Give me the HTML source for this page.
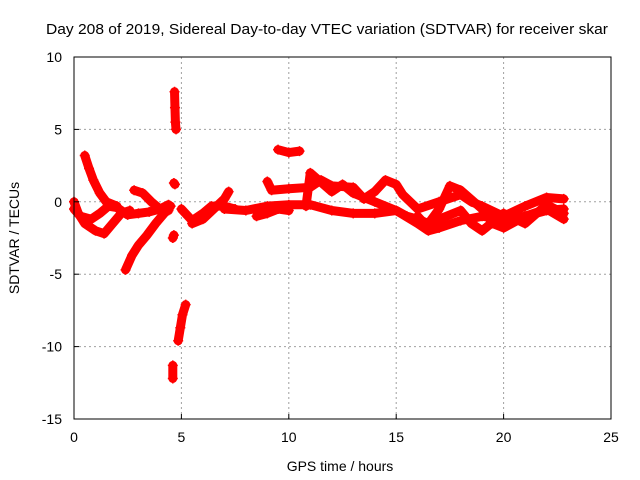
<!DOCTYPE html>
<html><head><meta charset="utf-8"><style>
body{margin:0;background:#fff}
svg{display:block;font-family:"Liberation Sans",sans-serif}
</style></head><body>
<svg id="chart" width="640" height="480" viewBox="0 0 640 480">
<text x="327" y="34" font-size="15" text-anchor="middle" textLength="562" lengthAdjust="spacingAndGlyphs">Day 208 of 2019, Sidereal Day-to-day VTEC variation (SDTVAR) for receiver skar</text>
<g id="grid"></g>
<g id="marks"></g>
<rect x="74" y="57" width="537" height="362" fill="none" stroke="#000"/>
<g id="ticks"></g>
<text x="340" y="471" font-size="14" text-anchor="middle">GPS time / hours</text>
<text transform="translate(19,238) rotate(-90)" font-size="14" text-anchor="middle">SDTVAR / TECUs</text>
</svg>
<script>
const xTicks=[0,5,10,15,20,25];
const yTicks=[10,5,0,-5,-10,-15];
const trackMain=[[0,-0.5],[0.3,-1],[0.8,-1.2],[1.2,-0.8],[1.6,-0.3],[2,-0.4],[2.5,-0.9],[3,-0.8],[3.5,-0.7],[4,-0.5],[4.4,-0.2]];
const trackLow=[[0,0],[0.2,-0.8],[0.5,-1.5],[1,-2],[1.4,-2.2],[1.8,-1.5],[2.2,-0.8],[2.6,-0.6]];
const trackDrop=[[0.5,3.2],[0.7,2.3],[0.9,1.5],[1.2,0.6],[1.5,0],[2,-0.3]];
const trackCurve=[[2.4,-4.7],[2.7,-3.7],[3,-3],[3.4,-2.3],[3.8,-1.5],[4.2,-0.8],[4.5,-0.3]];
const trackBump=[[2.8,0.8],[3.2,0.6],[3.6,0],[4,-0.5],[4.4,-0.6]];
const spikeHigh=[[4.68,7.6],[4.7,6.5],[4.72,5.5],[4.75,5]];
const spikeMid=[[4.65,1.3],[4.7,1.2]];
const spikeNeg=[[4.6,-2.5],[4.65,-2.3]];
const spikeFall=[[5.2,-7.1],[5.05,-7.8],[4.95,-8.7],[4.85,-9.6]];
const spikeLow=[[4.6,-11.3],[4.6,-12.2]];
const trackAfter=[[5,-0.5],[5.5,-1.3],[6,-0.8],[6.4,-0.3],[7,-0.3],[7.5,-0.5]];
const trackRise=[[5.5,-1.5],[6,-1.2],[6.5,-0.5],[7,0.2],[7.2,0.7]];
const trackBand=[[7,-0.5],[8,-0.6],[9,-0.3],[10,-0.2],[11,-0.2],[12,-0.6],[13,-0.8],[14,-0.8],[15,-0.6],[16,-1.5],[16.5,-2],[17,-1.8],[18,-1.3],[19,-1],[20,-1.2],[21,-1],[22,-0.6],[22.8,-0.5]];
const trackUpper=[[9,1.4],[9.2,0.8],[10,0.9],[11,1],[11.5,1.5],[12,1.1],[13,1],[13.5,0.2],[14,0.7],[14.5,1.5],[15,1.2],[15.3,0.5],[16,-0.5],[17,0],[18,0.5],[18.5,0],[19,-0.3],[20,-1],[21,-0.3],[22,0.3],[22.8,0.2]];
const trackArc=[[9.5,3.6],[10,3.4],[10.5,3.5]];
const trackWave=[[10.8,-0.3],[11,2],[12,0.7],[12.5,1.2],[13,0.6],[14,0],[15,-0.6],[15.5,-1],[16,-1.2],[16.5,-1.5],[17,-0.5],[17.5,1.1],[18,0.8],[19,-0.5],[19.5,-1.5],[20,-1.8],[21,-1],[22,-0.5],[22.8,-1.2]];
const trackMid=[[8.5,-1],[9,-0.8],[9.5,-0.5],[10,-0.6]];
const trackExtra=[[16,-1],[16.5,-1.8],[17,-1.2],[18,-0.6],[18.5,-1.5],[19,-2],[20,-0.8],[21,-1.5],[22,-0.2],[22.8,-0.8]];
const tracks=[trackMain,trackLow,trackDrop,trackCurve,trackBump,spikeHigh,spikeMid,spikeNeg,spikeFall,spikeLow,trackAfter,trackRise,trackBand,trackUpper,trackArc,trackWave,trackMid,trackExtra];
const sx=h=>74+h*537/25;
const sy=v=>57+(10-v)*362/25;
const NS="http://www.w3.org/2000/svg";
const grid=document.getElementById('grid'),ticks=document.getElementById('ticks'),marks=document.getElementById('marks');
function mk(tag,attrs,parent){const e=document.createElementNS(NS,tag);for(const k in attrs)e.setAttribute(k,attrs[k]);parent.appendChild(e);return e;}
xTicks.forEach(t=>{
  const x=sx(t);
  if(t>0&&t<25){const g=mk('line',{x1:x,y1:57,x2:x,y2:419,stroke:'#a0a0a0','stroke-dasharray':'2,3'},grid);
  
  }
  const l=mk('line',{x1:x,y1:419,x2:x,y2:414,stroke:'#000'},ticks);
  
  
  const tx=mk('text',{x:x,y:442,'font-size':14,'text-anchor':'middle'},ticks);tx.textContent=t;
  
  
});
yTicks.forEach(t=>{
  const y=sy(t);
  if(t<10&&t>-15){const g=mk('line',{x1:74,y1:y,x2:611,y2:y,stroke:'#a0a0a0','stroke-dasharray':'2,3'},grid);
  
  }
  const l=mk('line',{x1:74,y1:y,x2:79,y2:y,stroke:'#000'},ticks);
  
  
  const tx=mk('text',{x:62,y:y+5,'font-size':14,'text-anchor':'end'},ticks);tx.textContent=t;
  
  
});
tracks.forEach(tr=>{
  const pts=tr.map(p=>sx(p[0])+','+sy(p[1])).join(' ');
  const pl=mk('polyline',{points:pts,fill:'none',stroke:'#ff0000','stroke-width':9,'stroke-linejoin':'round','stroke-linecap':'round'},marks);
  
  
  tr.forEach(p=>{
    const x=sx(p[0]),y=sy(p[1]);
    const m=mk('path',{d:`M${x-5},${y}H${x+5}M${x},${y-5}V${y+5}`,stroke:'#ff0000','stroke-width':1.5},marks);
    
    
  });
});
</script>
</body></html>
